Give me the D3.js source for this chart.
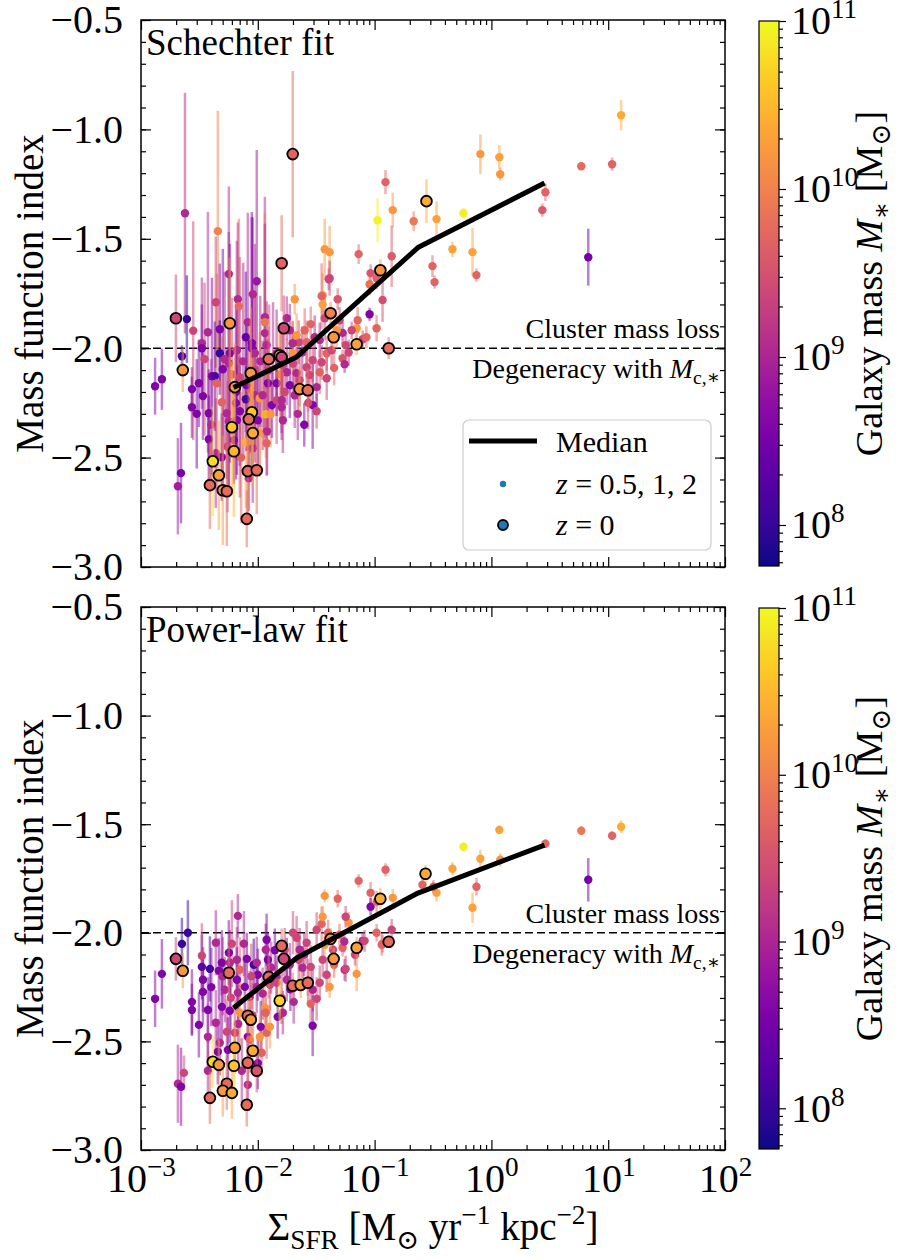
<!DOCTYPE html>
<html>
<head>
<meta charset="utf-8">
<script src="https://cdn.jsdelivr.net/npm/d3@7"></script>
<style>
  body { margin: 0; background: #fff; }
  svg text { font-family: "Liberation Serif", "DejaVu Serif", serif; fill: #000; }
</style>
</head>
<body>
<div id="chart"></div>
<script>
// axis ticks
const sfrTicks = [1e-3, 1e-2, 1e-1, 1, 10, 100];
const alphaTicks = [-3, -2.5, -2, -1.5, -1, -0.5];
const massTicks = [1e8, 1e9, 1e10, 1e11];
const massRange = [5.7e7, 1e11];

// [Sigma_SFR, index, error, galaxy mass]  -- Schechter fit, z = 0.5, 1, 2
const schechterHighZ = [
  [12.9, -0.935, 0.07, 2.5e10], [5.88, -1.168, 0.02, 6e9], [10.8, -1.159, 0.03, 5e9],
  [0.805, -1.113, 0.09, 1.6e10], [1.17, -1.127, 0.055, 2e10], [1.19, -1.205, 0.03, 1.6e10],
  [2.90, -1.287, 0.04, 5e9], [2.73, -1.369, 0.03, 4e9], [6.75, -1.584, 0.13, 3e8],
  [0.124, -1.241, 0.055, 5e9], [0.143, -1.369, 0.08, 1.6e10], [0.106, -1.415, 0.1, 9e10],
  [0.216, -1.42, 0.045, 8e9], [0.339, -1.41, 0.08, 2e10], [0.577, -1.383, 0.025, 8e10],
  [0.464, -1.548, 0.035, 2e10], [0.689, -1.561, 0.11, 2e10], [0.745, -1.666, 0.03, 5e9],
  [0.313, -1.625, 0.05, 5e9], [0.326, -1.698, 0.03, 5e9], [0.140, -1.58, 0.14, 4e9],
  [0.073, -1.57, 0.045, 5e9], [0.0924, -1.657, 0.04, 3.5e9], [0.104, -1.68, 0.05, 5e9],
  [0.0906, -1.708, 0.05, 7e9], [0.117, -1.78, 0.1, 3e9], [0.0906, -1.845, 0.03, 4e8],
  [0.104, -1.909, 0.06, 5e9], [0.0532, -1.93, 0.05, 1.1e9], [0.0716, -1.872, 0.06, 5e9],
  [0.0702, -1.909, 0.05, 1.6e10], [0.0636, -1.918, 0.04, 2.4e9], [0.079, -1.959, 0.04, 2.4e9],
  [0.0532, -2.046, 0.04, 3.5e9], [0.0554, -2.073, 0.04, 1.1e9], [0.0412, -1.561, 0.12, 1.6e10],
  [0.0412, -1.68, 0.08, 2.4e9], [0.0483, -1.776, 0.05, 3.5e9], [0.0374, -1.548, 0.14, 1.6e10],
  [0.0359, -1.758, 0.1, 1.6e10], [0.0359, -1.80, 0.06, 2e10], [0.0405, -1.685, 0.05, 2.4e9],
  [0.0207, -1.776, 0.07, 1.6e10], [0.0284, -1.89, 0.08, 5e9], [0.0352, -1.762, 0.15, 5e9],
  [0.0374, -1.863, 0.1, 2.4e9], [2.38e-3, -1.383, 0.55, 1.1e9], [4.55e-3, -1.465, 0.55, 1e10],
  [5.65e-3, -1.661, 0.4, 1.1e9], [9.8e-3, -1.694, 0.6, 7e8], [9.06e-3, -1.753, 0.35, 1.1e9],
  [6.75e-3, -1.776, 0.35, 1.1e9], [4.37e-3, -1.79, 0.3, 2.4e9], [6.88e-3, -1.808, 0.4, 6e9],
  [2.47e-3, -1.867, 0.2, 1e8], [1.15e-2, -1.858, 0.55, 1.1e9], [3.74e-3, -1.927, 0.55, 1.1e9],
  [4.73e-3, -1.913, 0.3, 4e8], [8.21e-3, -1.881, 0.5, 1.1e9], [7.9e-3, -1.95, 0.3, 2e8],
  [8.89e-3, -1.977, 0.6, 4e8], [1.15e-2, -1.881, 0.5, 8e9], [1.15e-2, -1.931, 0.5, 1.1e9],
  [1.19e-2, -1.986, 0.2, 1.1e9], [1.77e-2, -1.863, 0.1, 1.1e9], [2.24e-2, -1.973, 0.1, 2.4e9],
  [1.99e-2, -1.977, 0.1, 1.1e9], [2.15e-2, -1.941, 0.1, 1.6e10], [2.62e-2, -1.973, 0.1, 5e9],
  [3.07e-2, -1.95, 0.1, 1.1e9], [3.32e-3, -1.977, 0.3, 1.1e9], [1.32e-3, -2.174, 0.13, 4e8],
  [1.51e-3, -2.142, 0.14, 4e8], [2.24e-3, -2.037, 0.05, 1.2e8], [2.73e-3, -2.187, 0.1, 4e8],
  [2.73e-3, -2.27, 0.14, 4e8], [2.2e-3, -2.571, 0.23, 3e8], [2.07e-3, -2.631, 0.22, 8e8],
  [3.32e-3, -2.0, 0.2, 4e8], [3.13e-3, -2.16, 0.2, 4e8], [3.39e-3, -2.219, 0.2, 4e8],
  [3.81e-3, -2.297, 0.2, 4e8], [3.81e-3, -2.416, 0.2, 4e8], [4.05e-3, -2.128, 0.45, 4e8],
  [4.29e-3, -2.128, 0.25, 1.5e8], [4.73e-3, -2.023, 0.15, 1e8], [4.37e-3, -2.48, 0.25, 1.1e9],
  [4.92e-3, -2.498, 0.2, 4e8], [5.02e-3, -2.096, 0.55, 4e8], [4.46e-3, -2.16, 0.5, 5e9],
  [4.92e-3, -2.247, 0.3, 5e9], [5.43e-3, -2.297, 0.3, 1.1e9], [5.65e-3, -2.334, 0.3, 1.1e9],
  [6.24e-3, -2.42, 0.2, 4e8], [6.62e-3, -2.329, 0.25, 4e8], [5.76e-3, -2.023, 0.5, 4e8],
  [5.65e-3, -2.069, 0.6, 1.1e9], [6.62e-3, -2.009, 0.5, 1.1e9], [6.49e-3, -2.251, 0.25, 4e8],
  [7.02e-3, -2.288, 0.25, 4e8], [7.9e-3, -2.233, 0.15, 1.2e8], [7.02e-3, -2.133, 0.55, 2.4e9],
  [8.54e-3, -2.183, 0.3, 5e9], [9.43e-3, -2.215, 0.25, 1.1e9], [1.04e-2, -2.229, 0.3, 1.6e10],
  [1.1e-2, -2.215, 0.25, 1.1e9], [8.89e-3, -2.0, 0.6, 4e8], [9.43e-3, -2.023, 0.5, 1.1e9],
  [7.9e-3, -2.43, 0.3, 2.5e10], [9.06e-3, -2.457, 0.25, 1.1e9], [8.38e-3, -2.594, 0.15, 1.1e9],
  [1.04e-2, -2.388, 0.2, 1.6e10], [1.17e-2, -2.302, 0.2, 2.5e10], [1.29e-2, -2.302, 0.15, 1.6e10],
  [1.19e-2, -2.434, 0.15, 5e9], [1.22e-2, -2.16, 0.2, 4e8], [1.32e-2, -2.26, 0.15, 4e8],
  [1.45e-2, -2.238, 0.2, 2.4e9], [1.6e-2, -2.27, 0.15, 1.1e9], [1.64e-2, -2.329, 0.15, 1.1e9],
  [1.45e-2, -2.16, 0.15, 4e8], [1.6e-2, -2.238, 0.15, 1.1e9], [1.64e-2, -2.078, 0.2, 2.4e9],
  [1.45e-2, -2.023, 0.2, 1.1e9], [1.77e-2, -2.11, 0.15, 1.1e9], [1.99e-2, -2.023, 0.15, 1.6e10],
  [2.15e-2, -2.114, 0.12, 1.1e9], [2.95e-2, -2.26, 0.2, 4e8], [3.19e-2, -2.288, 0.08, 2.4e9],
  [2.62e-2, -2.087, 0.1, 2.4e9], [2.95e-2, -2.055, 0.1, 2.4e9], [3.52e-2, -2.064, 0.08, 2.4e9],
  [3.89e-2, -2.023, 0.08, 5e9], [4.29e-2, -2.009, 0.08, 2.4e9], [5.02e-2, -1.872, 0.06, 2.4e9],
  [5.65e-2, -1.986, 0.06, 2.4e9], [3.39e-2, -1.963, 0.08, 1.1e9], [1.88e-2, -1.918, 0.12, 1.1e9],
  [2.52e-2, -1.918, 0.1, 5e9], [4.73e-2, -1.918, 0.08, 1.6e10], [2.28e-2, -2.146, 0.12, 2.4e9],
  [2.78e-2, -2.123, 0.12, 2.4e9], [3.39e-2, -2.11, 0.1, 5e9], [3.19e-2, -2.178, 0.12, 1.1e9],
  [3.89e-2, -2.137, 0.1, 2.4e9], [1.88e-2, -2.169, 0.15, 4e8], [2.07e-2, -2.215, 0.15, 1.1e9],
  [5.2e-3, -2.05, 0.4, 1.1e9], [6.0e-3, -2.12, 0.35, 2.4e9], [7.5e-3, -2.06, 0.45, 1.1e9],
  [8.0e-3, -2.17, 0.3, 4e8], [9.5e-3, -2.1, 0.35, 2.4e9], [1.05e-2, -2.06, 0.3, 1.1e9],
  [1.25e-2, -2.1, 0.3, 2.4e9], [1.35e-2, -2.04, 0.25, 1.1e9], [1.55e-2, -2.12, 0.2, 5e9],
  [1.7e-2, -2.2, 0.15, 2.4e9], [2.0e-2, -2.07, 0.15, 2.4e9], [2.4e-2, -2.02, 0.12, 1.1e9],
  [2.7e-2, -2.25, 0.12, 2.4e9], [6.5e-3, -2.2, 0.4, 4e8], [4.0e-3, -2.35, 0.3, 1.1e9],
  [3.5e-3, -2.05, 0.35, 2.4e9], [5.5e-3, -2.45, 0.3, 2.4e9], [7.2e-3, -2.5, 0.3, 5e9],
  [1.0e-2, -2.33, 0.25, 4e8], [1.2e-2, -2.38, 0.2, 1.1e9], [2.2e-2, -2.3, 0.12, 1.1e9],
  [2.5e-2, -2.35, 0.1, 4e8], [4.5e-2, -2.09, 0.08, 5e9], [6.0e-2, -2.02, 0.06, 2.4e9],
  [8.5e-2, -1.95, 0.05, 5e9], [3.0e-3, -2.3, 0.25, 4e8], [2.8e-3, -1.92, 0.5, 2.4e9]
];

// Schechter fit, z = 0
const schechterZ0 = [
  [1.99e-2, -1.113, 0.38, 5e9], [1.6e-2, -1.612, 0.22, 5e9], [0.278, -1.328, 0.1, 2.5e10],
  [0.112, -1.644, 0.05, 1.6e10], [4.2e-2, -1.84, 0.05, 1e10], [1.99e-3, -1.863, 0.2, 2.4e9],
  [5.76e-3, -1.886, 0.3, 1.6e10], [1.67e-2, -1.909, 0.15, 2.4e9], [4.46e-2, -1.95, 0.06, 1.6e10],
  [7.02e-2, -1.982, 0.05, 2e10], [0.132, -2.0, 0.05, 6e9], [2.28e-3, -2.1, 0.1, 1.6e10],
  [1.24e-2, -2.05, 0.15, 6e9], [1.54e-2, -2.032, 0.15, 3e10], [1.6e-2, -2.041, 0.15, 2.4e9],
  [8.71e-3, -2.114, 0.3, 1.6e10], [6.36e-3, -2.178, 0.2, 1.6e10], [2.28e-2, -2.187, 0.1, 1.6e10],
  [2.68e-2, -2.192, 0.1, 6e9], [8.89e-3, -2.293, 0.25, 4e10], [8.38e-3, -2.325, 0.25, 6e9],
  [6.0e-3, -2.361, 0.3, 4e10], [9.06e-3, -2.388, 0.25, 2.5e10], [6.24e-3, -2.471, 0.3, 3e10],
  [4.12e-3, -2.517, 0.25, 6e10], [4.64e-3, -2.581, 0.25, 2e10], [3.89e-3, -2.626, 0.2, 6e9],
  [5.02e-3, -2.649, 0.25, 1.6e10], [5.43e-3, -2.654, 0.25, 6e9], [8.21e-3, -2.562, 0.2, 6e9],
  [9.8e-3, -2.558, 0.2, 6e9], [8.05e-3, -2.78, 0.13, 6e9]
];

// Power-law fit, z = 0.5, 1, 2
const powerLawHighZ = [
  [12.9, -1.512, 0.03, 2.5e10], [5.88, -1.530, 0.02, 8e9], [10.8, -1.553, 0.02, 5e9],
  [1.17, -1.526, 0.02, 2e10], [1.19, -1.664, 0.03, 1.6e10], [0.805, -1.659, 0.04, 2e10],
  [0.689, -1.885, 0.07, 2e10], [0.745, -1.788, 0.04, 5e9], [0.577, -1.604, 0.02, 8e10],
  [0.464, -1.705, 0.03, 2e10], [2.9, -1.59, 0.02, 5e9], [6.75, -1.756, 0.1, 3e8],
  [0.339, -1.816, 0.04, 2e10], [0.257, -1.779, 0.04, 5e9], [0.319, -1.788, 0.03, 3.5e9],
  [0.124, -1.71, 0.03, 5e9], [0.073, -1.761, 0.03, 5e9], [0.143, -1.839, 0.04, 1.6e10],
  [0.0924, -1.816, 0.05, 5e9], [0.0924, -1.88, 0.04, 4e8], [0.104, -1.857, 0.05, 5e9],
  [0.0483, -1.843, 0.04, 5e9], [0.06, -1.954, 0.05, 1.6e10], [0.0565, -1.926, 0.05, 2.4e9],
  [0.104, -2.0, 0.04, 5e9], [0.14, -1.986, 0.05, 2.4e9], [0.115, -2.055, 0.05, 5e9],
  [0.079, -2.037, 0.04, 1.1e9], [0.0532, -2.069, 0.04, 5e9], [0.0554, -2.17, 0.05, 1.1e9],
  [0.0702, -2.189, 0.08, 1.6e10], [0.0412, -2.249, 0.05, 1.6e10], [0.0374, -1.83, 0.03, 1.6e10],
  [6.75e-3, -1.922, 0.1, 1.1e9], [2.52e-3, -2.0, 0.15, 1e8], [2.24e-3, -2.051, 0.12, 1e8],
  [1.51e-3, -2.189, 0.16, 4e8], [1.32e-3, -2.304, 0.13, 4e8], [2.07e-3, -2.695, 0.18, 1.1e9],
  [2.2e-3, -2.709, 0.18, 4e8], [2.33e-3, -2.645, 0.08, 2.4e9], [2.73e-3, -2.318, 0.15, 4e8],
  [2.73e-3, -2.355, 0.12, 4e8], [3.13e-3, -2.424, 0.15, 4e8], [3.32e-3, -2.157, 0.15, 2e8],
  [3.39e-3, -2.216, 0.15, 4e8], [3.39e-3, -2.272, 0.15, 4e8], [3.32e-3, -2.106, 0.15, 2.4e9],
  [3.89e-3, -2.166, 0.15, 1.2e8], [3.74e-3, -2.355, 0.15, 4e8], [3.74e-3, -2.479, 0.15, 1.1e9],
  [3.74e-3, -2.635, 0.15, 1.1e9], [4.37e-3, -2.046, 0.15, 1.1e9], [4.37e-3, -2.414, 0.15, 1.1e9],
  [4.64e-3, -2.175, 0.15, 4e8], [4.92e-3, -2.138, 0.15, 4e8], [4.92e-3, -2.341, 0.15, 4e8],
  [4.55e-3, -2.548, 0.15, 4e8], [4.73e-3, -2.506, 0.15, 1.1e9], [5.22e-3, -2.262, 0.15, 1.1e9],
  [5.43e-3, -2.456, 0.15, 2.4e9], [5.65e-3, -2.092, 0.15, 4e8], [5.76e-3, -2.138, 0.15, 1.1e9],
  [5.88e-3, -2.299, 0.15, 2.4e9], [5.76e-3, -2.359, 0.15, 4e8], [5.54e-3, -2.539, 0.15, 4e8],
  [6.62e-3, -2.124, 0.15, 1.1e9], [7.02e-3, -2.17, 0.15, 5e9], [6.62e-3, -2.216, 0.15, 4e8],
  [6.75e-3, -2.276, 0.15, 1.1e9], [6.36e-3, -2.46, 0.15, 2.4e9], [7.02e-3, -2.368, 0.15, 1.6e10],
  [8.05e-3, -2.12, 0.12, 4e8], [9.24e-3, -2.147, 0.12, 1.2e8], [9.8e-3, -2.138, 0.12, 1.1e9],
  [9.8e-3, -2.249, 0.12, 1.1e9], [8.54e-3, -2.295, 0.12, 1.1e9], [7.74e-3, -2.249, 0.12, 4e8],
  [8.21e-3, -2.479, 0.12, 4e8], [8.54e-3, -2.493, 0.15, 5e9], [7.3e-3, -2.635, 0.15, 1.1e9],
  [8.21e-3, -2.7, 0.12, 1.1e9], [1.06e-2, -2.433, 0.12, 4e8], [1.04e-2, -2.479, 0.1, 1.6e10],
  [1.08e-2, -2.552, 0.1, 5e9], [1.17e-2, -2.078, 0.12, 1.1e9], [1.22e-2, -2.124, 0.12, 4e8],
  [1.19e-2, -2.032, 0.12, 4e8], [1.15e-2, -2.345, 0.12, 1.6e10], [1.19e-2, -2.46, 0.12, 5e9],
  [1.27e-2, -2.433, 0.1, 1.6e10], [1.17e-2, -2.368, 0.1, 5e9], [1.45e-2, -2.203, 0.1, 1.1e9],
  [1.45e-2, -2.23, 0.1, 2.4e9], [1.48e-2, -2.387, 0.1, 4e8], [1.64e-2, -2.368, 0.1, 1.1e9],
  [1.77e-2, -2.216, 0.1, 1.1e9], [2.03e-2, -2.318, 0.1, 1.1e9], [2.15e-2, -2.023, 0.1, 2.4e9],
  [2.24e-2, -2.124, 0.1, 2.4e9], [2.42e-2, -2.161, 0.1, 1.1e9], [2.62e-2, -2.046, 0.1, 2.4e9],
  [2.84e-2, -2.157, 0.1, 2.4e9], [2.95e-2, -2.262, 0.1, 1.1e9], [2.95e-2, -2.428, 0.14, 4e8],
  [3.19e-2, -2.304, 0.1, 2.4e9], [2.84e-2, -2.327, 0.1, 5e9], [3.39e-2, -2.23, 0.08, 2.4e9],
  [3.89e-2, -2.193, 0.08, 2.4e9], [3.59e-2, -2.124, 0.08, 2.4e9], [3.19e-2, -1.986, 0.08, 2.4e9],
  [3.52e-2, -1.959, 0.08, 5e9], [3.59e-2, -1.926, 0.05, 1.6e10], [5.65e-2, -2.166, 0.06, 2.4e9],
  [8.21e-2, -2.037, 0.05, 2.4e9], [0.117, -2.05, 0.04, 5e9], [2.28e-2, -2.078, 0.1, 1.1e9],
  [1.88e-2, -2.147, 0.1, 1.1e9], [1.7e-2, -2.078, 0.1, 2.4e9], [1.27e-2, -2.239, 0.12, 2.4e9],
  [1.0e-2, -2.193, 0.12, 4e8], [1.77e-2, -2.124, 0.1, 4e8], [4.4e-2, -2.078, 0.06, 2.4e9],
  [4.5e-2, -2.147, 0.06, 5e9], [6.8e-2, -2.101, 0.05, 2.4e9], [3.74e-2, -2.055, 0.06, 1.6e10],
  [5.0e-2, -2.009, 0.05, 5e9],
  [5.0e-3, -2.2, 0.18, 1.1e9], [6.0e-3, -2.05, 0.2, 2.4e9], [7.6e-3, -2.05, 0.15, 1.1e9],
  [8.8e-3, -2.2, 0.15, 2.4e9], [1.1e-2, -2.28, 0.12, 1.1e9], [1.3e-2, -2.16, 0.12, 1.1e9],
  [1.4e-2, -2.08, 0.1, 4e8], [1.6e-2, -2.3, 0.12, 2.4e9], [1.9e-2, -2.26, 0.1, 4e8],
  [2.5e-2, -2.1, 0.1, 1.1e9], [2.7e-2, -2.22, 0.1, 2.4e9], [4.0e-3, -2.25, 0.18, 4e8],
  [6.8e-3, -2.42, 0.18, 1.1e9], [9.0e-3, -2.38, 0.15, 2.4e9], [1.0e-2, -2.6, 0.12, 4e8],
  [4.0e-2, -2.0, 0.06, 5e9], [5.5e-2, -2.04, 0.05, 1.1e9], [2.0e-2, -2.0, 0.1, 2.4e9]
];

// Power-law fit, z = 0
const powerLawZ0 = [
  [1.99e-3, -2.12, 0.1, 2.4e9], [2.28e-3, -2.175, 0.08, 1.6e10], [5.65e-3, -2.184, 0.12, 6e9],
  [1.6e-2, -2.06, 0.08, 6e9], [1.67e-2, -2.12, 0.08, 2.4e9], [1.24e-2, -2.203, 0.1, 6e9],
  [1.54e-2, -2.313, 0.1, 5e10], [1.99e-2, -2.244, 0.06, 6e9], [2.33e-2, -2.24, 0.06, 1.6e10],
  [2.68e-2, -2.23, 0.06, 6e9], [4.2e-2, -2.028, 0.05, 1.6e10], [4.46e-2, -2.12, 0.05, 1.6e10],
  [7.02e-2, -2.069, 0.05, 2e10], [0.132, -2.041, 0.03, 6e9], [0.112, -1.843, 0.05, 2.5e10],
  [8.21e-3, -2.382, 0.1, 6e9], [8.71e-3, -2.4, 0.1, 1.6e10], [6.36e-3, -2.529, 0.12, 2e10],
  [9.06e-3, -2.543, 0.1, 2.5e10], [4.12e-3, -2.594, 0.12, 6e10], [4.64e-3, -2.608, 0.12, 1.6e10],
  [6.24e-3, -2.612, 0.12, 4e10], [8.21e-3, -2.598, 0.1, 6e9], [9.8e-3, -2.635, 0.1, 3.5e9],
  [5.43e-3, -2.695, 0.12, 6e9], [5.02e-3, -2.727, 0.12, 1.6e10], [6.0e-3, -2.737, 0.12, 2.5e10],
  [3.89e-3, -2.76, 0.12, 6e9], [8.05e-3, -2.792, 0.1, 6e9], [0.273, -1.728, 0.04, 2.5e10]
];

// running medians
const medianSfr = [6.2e-3, 2.15e-2, 0.235, 2.85];
const medianSchechter = [-2.18, -2.04, -1.54, -1.245];
const medianPowerLaw = [-2.346, -2.116, -1.817, -1.596];

const W = 900, H = 1260;
const TICK_FONT = 40;
const svg = d3.select("#chart").append("svg")
    .attr("width", W).attr("height", H);

const x = d3.scaleLog().domain([1e-3, 1e2]).range([141, 725]);
const color = d3.scaleSequentialLog(d3.interpolatePlasma).domain(massRange);

const minorSfr = [];
for (let e = -3; e < 2; e++) for (let k = 2; k < 10; k++) minorSfr.push(k * Math.pow(10, e));
const minorAlpha = d3.range(-30, -4).map(v => v / 10);
const minorMass = [];
for (let e = 7; e < 11; e++) for (let k = 2; k < 10; k++) {
  const v = k * Math.pow(10, e);
  if (v >= massRange[0] && v <= massRange[1]) minorMass.push(v);
}

const fmtAlpha = v => (v < 0 ? "\u2212" : "") + Math.abs(v).toFixed(1);

// text with sub/superscripts; a tspan only gets dy when the baseline moves,
// so the parent's dy (set by d3.axis) still applies to the first run
function rich(sel, parts, size, small = 0.7) {
  let off = 0;
  parts.forEach(p => {
    const target = p.sub ? size * 0.22 : p.sup ? -size * 0.4 : 0;
    const ts = sel.append("tspan").text(p.t);
    if (target !== off) ts.attr("dy", target - off);
    off = target;
    if (p.sub || p.sup) ts.attr("font-size", size * small);
    if (p.i) ts.attr("font-style", "italic");
  });
}

function powLabel(sel, size) {
  sel.text(null).each(function(d) {
    const e = Math.round(Math.log10(d));
    rich(d3.select(this), [{ t: "10" }, { t: (e < 0 ? "\u2212" : "") + Math.abs(e), sup: true }], size, 0.68);
  });
}

// colour bar gradient
const defs = svg.append("defs");
const grad = defs.append("linearGradient").attr("id", "plasma")
    .attr("x1", 0).attr("y1", 1).attr("x2", 0).attr("y2", 0);
d3.range(0, 1.0001, 0.05).forEach(t => {
  grad.append("stop").attr("offset", t).attr("stop-color", d3.interpolatePlasma(t));
});

function styleAxis(g, size) {
  g.attr("font-family", null).attr("font-size", size);
  g.select(".domain").remove();
  g.selectAll("line").attr("stroke", "#000").attr("stroke-width", 1.2);
}

function drawPanel(p) {
  const y = d3.scaleLinear().domain([-3, -0.5]).range([p.bottom, p.top]);
  const g = svg.append("g");
  const [x0, x1] = x.range();

  // dashed reference line
  g.append("line")
      .attr("x1", x0).attr("x2", x1).attr("y1", y(-2)).attr("y2", y(-2))
      .attr("stroke", "#000").attr("stroke-width", 1.6).attr("stroke-dasharray", "8,4");

  g.append("text").attr("x", 720).attr("y", y(-2) - 10).attr("text-anchor", "end")
      .attr("font-size", 28).text("Cluster mass loss");
  rich(g.append("text").attr("x", 720).attr("y", y(-2) + 30).attr("text-anchor", "end")
      .attr("font-size", 28),
      [{ t: "Degeneracy with " }, { t: "M", i: true }, { t: "c,\u2217", sub: true }], 28);

  function errbars(data) {
    g.append("g").selectAll("line").data(data).enter().append("line")
        .attr("x1", d => x(d[0])).attr("x2", d => x(d[0]))
        .attr("y1", d => y(d[1] - d[2])).attr("y2", d => y(d[1] + d[2]))
        .attr("stroke", d => color(d[3])).attr("stroke-opacity", 0.5).attr("stroke-width", 2.5);
  }

  errbars(p.high);
  g.append("g").selectAll("circle").data(p.high).enter().append("circle")
      .attr("cx", d => x(d[0])).attr("cy", d => y(d[1])).attr("r", 4.2)
      .attr("fill", d => color(d[3]));

  errbars(p.z0);
  g.append("g").selectAll("circle").data(p.z0).enter().append("circle")
      .attr("cx", d => x(d[0])).attr("cy", d => y(d[1])).attr("r", 5.4)
      .attr("fill", d => color(d[3])).attr("stroke", "#000").attr("stroke-width", 1.8);

  // median
  const line = d3.line().x(d => x(d[0])).y(d => y(d[1]));
  g.append("path").datum(medianSfr.map((s, i) => [s, p.median[i]]))
      .attr("d", line).attr("fill", "none").attr("stroke", "#000")
      .attr("stroke-width", 5).attr("stroke-linejoin", "round");

  // axes, ticks pointing inwards on all sides
  const bx = g.append("g").attr("transform", `translate(0,${p.bottom})`)
      .call(d3.axisBottom(x).tickValues(sfrTicks).tickSizeInner(-10).tickSizeOuter(0).tickPadding(14));
  styleAxis(bx, TICK_FONT);
  if (p.showX) powLabel(bx.selectAll("text"), TICK_FONT); else bx.selectAll("text").remove();
  styleAxis(g.append("g").attr("transform", `translate(0,${p.bottom})`)
      .call(d3.axisBottom(x).tickValues(minorSfr).tickSizeInner(-5).tickSizeOuter(0).tickFormat("")), 10);
  styleAxis(g.append("g").attr("transform", `translate(0,${p.top})`)
      .call(d3.axisTop(x).tickValues(sfrTicks).tickSizeInner(-10).tickSizeOuter(0).tickFormat("")), 10);
  styleAxis(g.append("g").attr("transform", `translate(0,${p.top})`)
      .call(d3.axisTop(x).tickValues(minorSfr).tickSizeInner(-5).tickSizeOuter(0).tickFormat("")), 10);

  const ly = g.append("g").attr("transform", `translate(${x0},0)`)
      .call(d3.axisLeft(y).tickValues(alphaTicks).tickSizeInner(-10).tickSizeOuter(0)
        .tickPadding(18).tickFormat(fmtAlpha));
  styleAxis(ly, TICK_FONT);
  styleAxis(g.append("g").attr("transform", `translate(${x0},0)`)
      .call(d3.axisLeft(y).tickValues(minorAlpha).tickSizeInner(-5).tickSizeOuter(0).tickFormat("")), 10);
  styleAxis(g.append("g").attr("transform", `translate(${x1},0)`)
      .call(d3.axisRight(y).tickValues(alphaTicks).tickSizeInner(-10).tickSizeOuter(0).tickFormat("")), 10);
  styleAxis(g.append("g").attr("transform", `translate(${x1},0)`)
      .call(d3.axisRight(y).tickValues(minorAlpha).tickSizeInner(-5).tickSizeOuter(0).tickFormat("")), 10);

  g.append("rect").attr("x", x0).attr("y", p.top).attr("width", x1 - x0).attr("height", p.bottom - p.top)
      .attr("fill", "none").attr("stroke", "#000").attr("stroke-width", 1.5);

  g.append("text").attr("x", x0 + 5).attr("y", p.top + 35).attr("font-size", 37).text(p.title);

  g.append("text")
      .attr("transform", `translate(43,${(p.top + p.bottom) / 2}) rotate(-90)`)
      .attr("text-anchor", "middle").attr("font-size", 39).text("Mass function index");

  // colour bar
  const cb = d3.scaleLog().domain(massRange).range([p.bottom - 1, p.top + 1]);
  g.append("rect").attr("x", 759).attr("y", cb.range()[1]).attr("width", 20)
      .attr("height", cb.range()[0] - cb.range()[1]).attr("fill", "url(#plasma)")
      .attr("stroke", "#000").attr("stroke-width", 1.2);
  const ca = g.append("g").attr("transform", "translate(779,0)")
      .call(d3.axisRight(cb).tickValues(massTicks).tickSizeInner(7).tickSizeOuter(0).tickPadding(5));
  styleAxis(ca, TICK_FONT);
  powLabel(ca.selectAll("text"), TICK_FONT);
  styleAxis(g.append("g").attr("transform", "translate(779,0)")
      .call(d3.axisRight(cb).tickValues(minorMass).tickSizeInner(4).tickSizeOuter(0).tickFormat("")), 10);

  rich(g.append("text")
      .attr("transform", `translate(882,${(p.top + p.bottom) / 2 - 10}) rotate(-90)`)
      .attr("text-anchor", "middle").attr("font-size", 38),
      [{ t: "Galaxy mass " }, { t: "M", i: true }, { t: "\u2217", sub: true }, { t: " [M" },
       { t: "\u2299", sub: true }, { t: "]" }], 38);

  return g;
}

const topPanel = drawPanel({
  top: 20, bottom: 567, title: "Schechter fit", showX: false,
  high: schechterHighZ, z0: schechterZ0, median: medianSchechter
});
drawPanel({
  top: 607, bottom: 1150, title: "Power-law fit", showX: true,
  high: powerLawHighZ, z0: powerLawZ0, median: medianPowerLaw
});

// legend (top panel)
const lg = topPanel.append("g").attr("transform", "translate(463,420)");
lg.append("rect").attr("width", 248).attr("height", 130).attr("rx", 6)
    .attr("fill", "#fff").attr("fill-opacity", 0.8).attr("stroke", "#ccc").attr("stroke-width", 1.2);
lg.append("line").attr("x1", 6).attr("x2", 74).attr("y1", 21).attr("y2", 21)
    .attr("stroke", "#000").attr("stroke-width", 5);
lg.append("text").attr("x", 93).attr("y", 32).attr("font-size", 30).text("Median");
lg.append("circle").attr("cx", 40).attr("cy", 64).attr("r", 3.2).attr("fill", "#1f77b4");
rich(lg.append("text").attr("x", 93).attr("y", 74).attr("font-size", 30),
    [{ t: "z", i: true }, { t: " = 0.5, 1, 2" }], 30);
lg.append("circle").attr("cx", 40).attr("cy", 105).attr("r", 5)
    .attr("fill", "#1f77b4").attr("stroke", "#000").attr("stroke-width", 1.8);
rich(lg.append("text").attr("x", 93).attr("y", 115).attr("font-size", 30),
    [{ t: "z", i: true }, { t: " = 0" }], 30);

// x axis label
rich(svg.append("text").attr("x", 433).attr("y", 1240).attr("text-anchor", "middle").attr("font-size", 39),
    [{ t: "\u03a3" }, { t: "SFR", sub: true }, { t: " [M" }, { t: "\u2299", sub: true },
     { t: " yr" }, { t: "\u22121", sup: true }, { t: " kpc" }, { t: "\u22122", sup: true }, { t: "]" }], 39);
</script>
</body>
</html>
